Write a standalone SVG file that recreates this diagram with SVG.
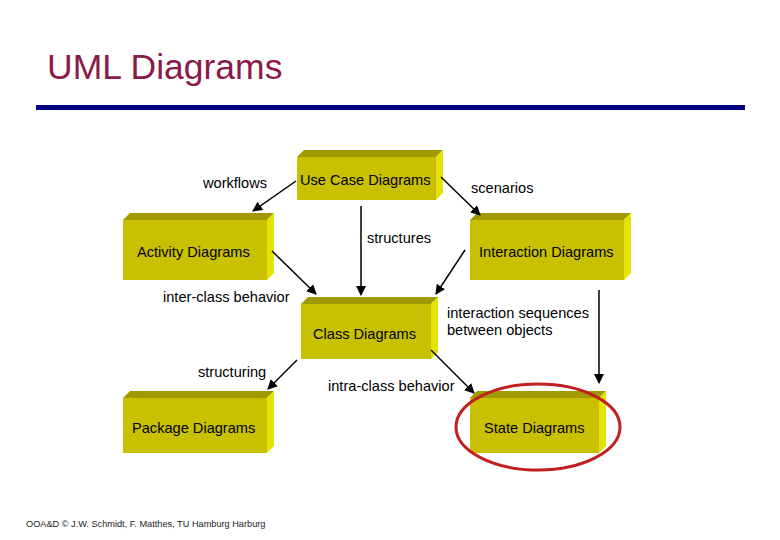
<svg xmlns="http://www.w3.org/2000/svg" width="780" height="540" viewBox="0 0 780 540">
<style>
text{font-family:"Liberation Sans",Arial,sans-serif;fill:#000}
.f{fill:#c8c000}.t{fill:#a09a00}.s{fill:#e4e400}
.lb{font-size:14.6px}
.c line{stroke:#000;stroke-width:1.5;marker-end:url(#a)}
</style>
<defs><marker id="a" markerWidth="10" markerHeight="10" refX="9" refY="5" orient="auto" markerUnits="userSpaceOnUse"><path d="M0,0 L10,5 L0,10 z" fill="#000"/></marker></defs>
<rect width="780" height="540" fill="#fff"/>
<text x="47" y="79" style="font-size:35.5px;fill:#8b1a4a">UML Diagrams</text>
<rect x="36" y="105" width="709" height="5" fill="#000080"/>
<g id="usecase"><polygon class="t" points="297,157 304,150 443,150 436,157"/><polygon class="s" points="436,157 443,150 443,193 436,200"/><rect class="f" x="297" y="157" width="139" height="43"/><text x="300" y="185" class="lb">Use Case Diagrams</text></g>
<g id="activity"><polygon class="t" points="123,220 130,213 274,213 267,220"/><polygon class="s" points="267,220 274,213 274,273 267,280"/><rect class="f" x="123" y="220" width="144" height="60"/><text x="137" y="257" class="lb">Activity Diagrams</text></g>
<g id="interaction"><polygon class="t" points="470,220 477,213 631,213 624,220"/><polygon class="s" points="624,220 631,213 631,273 624,280"/><rect class="f" x="470" y="220" width="154" height="60"/><text x="479" y="257" class="lb">Interaction Diagrams</text></g>
<g id="class"><polygon class="t" points="301,304 308,297 438,297 431,304"/><polygon class="s" points="431,304 438,297 438,352 431,359"/><rect class="f" x="301" y="304" width="130" height="55"/><text x="313" y="339" class="lb">Class Diagrams</text></g>
<g id="package"><polygon class="t" points="123,398 130,391 274,391 267,398"/><polygon class="s" points="267,398 274,391 274,446 267,453"/><rect class="f" x="123" y="398" width="144" height="55"/><text x="132" y="433" class="lb">Package Diagrams</text></g>
<g id="state"><polygon class="t" points="470,398 477,391 606,391 599,398"/><polygon class="s" points="599,398 606,391 606,446 599,453"/><rect class="f" x="470" y="398" width="129" height="55"/><text x="484" y="433" class="lb">State Diagrams</text></g>
<g class="c" id="connectors">
<line x1="296" y1="181" x2="253" y2="211"/>
<line x1="441" y1="177" x2="480" y2="215"/>
<line x1="361" y1="206" x2="361" y2="295"/>
<line x1="272" y1="251" x2="316" y2="294"/>
<line x1="465" y1="250" x2="436" y2="294"/>
<line x1="599" y1="290" x2="599" y2="383"/>
<line x1="297" y1="360" x2="268" y2="389"/>
<line x1="431" y1="350" x2="474" y2="393"/>
</g>
<g id="labels">
<text x="203" y="188" class="lb">workflows</text>
<text x="471" y="193" class="lb">scenarios</text>
<text x="367" y="243" class="lb">structures</text>
<text x="163" y="302" class="lb">inter-class behavior</text>
<text x="447" y="318" class="lb">interaction sequences</text>
<text x="447" y="335" class="lb">between objects</text>
<text x="198" y="377" class="lb">structuring</text>
<text x="328" y="391" class="lb">intra-class behavior</text>
</g>
<ellipse cx="538" cy="427" rx="82" ry="43" fill="none" stroke="#c02020" stroke-width="3"/>
<text x="26" y="527" style="font-size:9.2px;fill:#222">OOA&amp;D  © J.W. Schmidt, F. Matthes, TU Hamburg Harburg</text>
</svg>
